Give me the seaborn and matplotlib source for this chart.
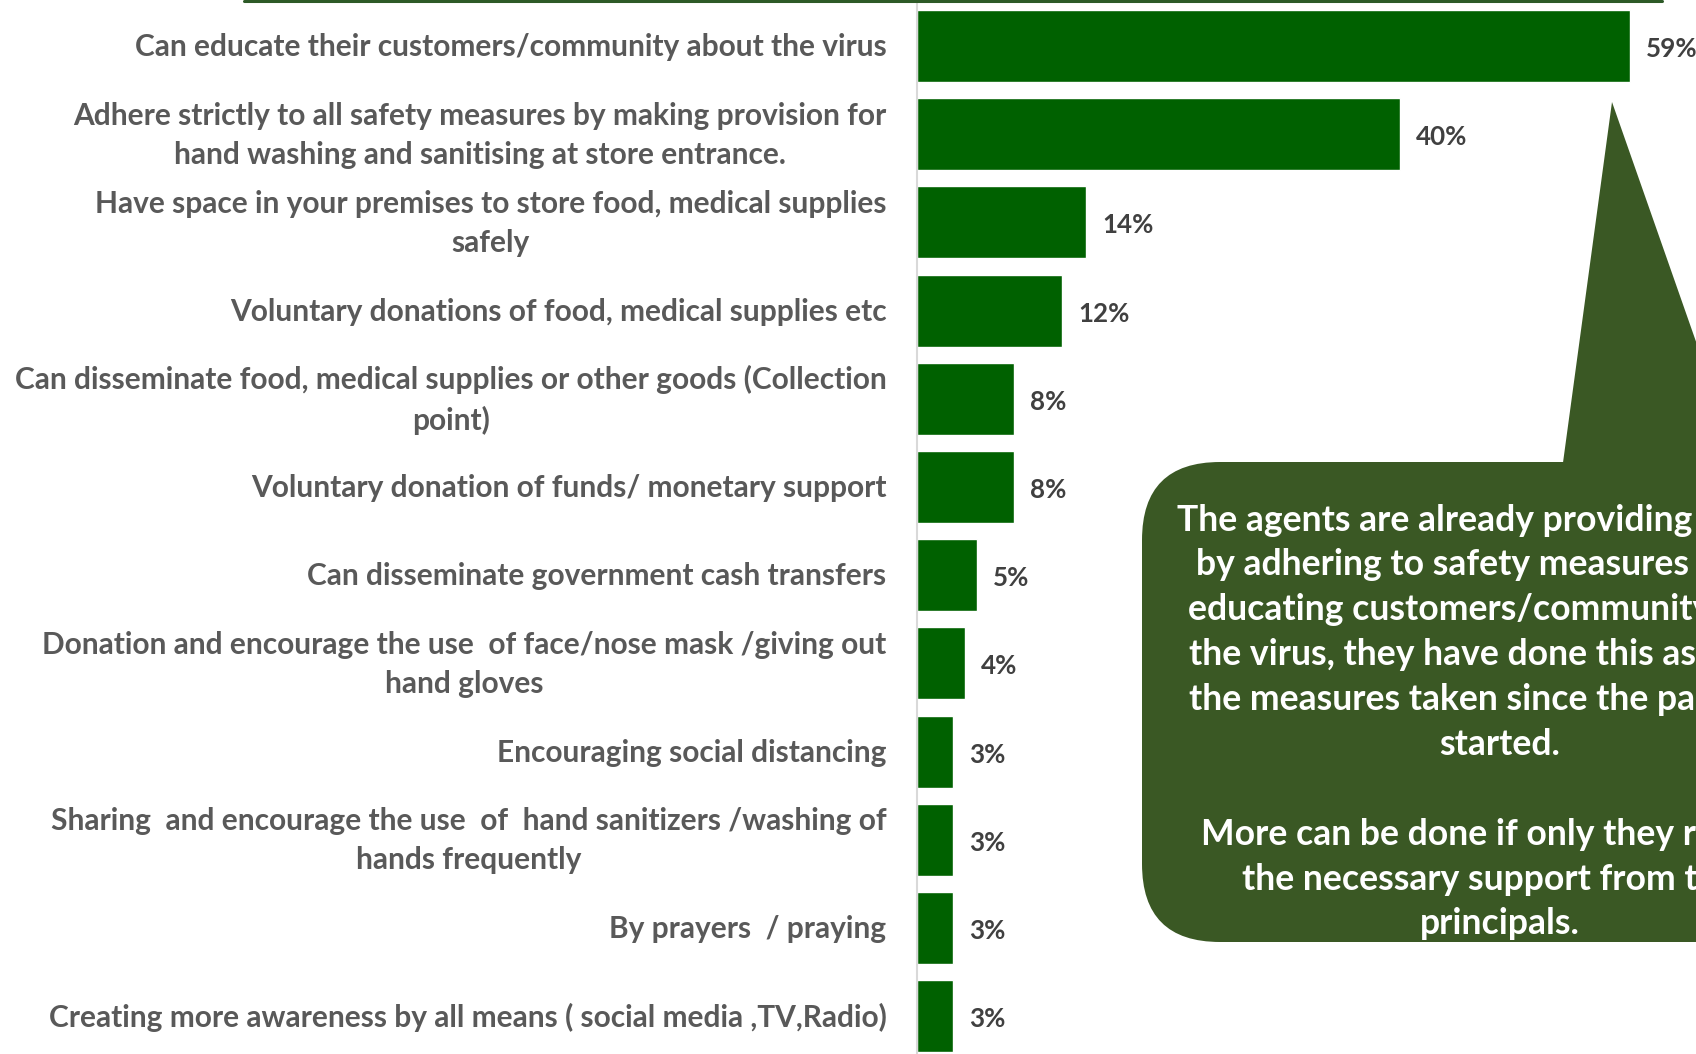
import matplotlib
matplotlib.use("Agg")
import matplotlib.pyplot as plt
import seaborn as sns
import pandas as pd
from matplotlib.patches import FancyBboxPatch, Polygon
from matplotlib.lines import Line2D
from matplotlib.transforms import IdentityTransform, ScaledTranslation

# ---- data -------------------------------------------------------------
categories = [
    "Can educate their customers/community about the virus",
    "Adhere strictly to all safety measures by making provision for\nhand washing and sanitising at store entrance.",
    "Have space in your premises to store food, medical supplies\nsafely",
    "Voluntary donations of food, medical supplies etc",
    "Can disseminate food, medical supplies or other goods (Collection\npoint)",
    "Voluntary donation of funds/ monetary support",
    "Can disseminate government cash transfers",
    "Donation and encourage the use  of face/nose mask /giving out\nhand gloves",
    "Encouraging social distancing",
    "Sharing  and encourage the use  of  hand sanitizers /washing of\nhands frequently",
    "By prayers  / praying",
    "Creating more awareness by all means ( social media ,TV,Radio)",
]
values = [59, 40, 14, 12, 8, 8, 5, 4, 3, 3, 3, 3]
value_labels = [f"{v}%" for v in values]

callout_lines = [
    "The agents are already providing support",
    "by adhering to safety measures and by",
    "educating customers/community about",
    "the virus, they have done this as part of",
    "the measures taken since the pandemic",
    "started.",
    "",
    "More can be done if only they receive",
    "the necessary support from their",
    "principals.",
]

# ---- style ------------------------------------------------------------
BAR = "#006100"
CALLOUT = "#3A5824"
RULE = "#2D5A27"
LABEL = "#595959"
VALUE = "#404040"

sns.set_theme(style="white")
plt.rcParams["font.family"] = ["Lato", "DejaVu Sans"]

W, H = 1696, 1054
fig = plt.figure(figsize=(W / 100, H / 100), dpi=100)
fig.patch.set_facecolor("white")

# plot area: bars start at x=917 px, 12.08 px per percentage point
px_per_pct = 12.08
ax_left, ax_right = 917, W
ax_top, ax_bottom = 1.9, 1060.3
ax = fig.add_axes([ax_left / W, (H - ax_bottom) / H,
                   (ax_right - ax_left) / W, (ax_bottom - ax_top) / H])

df = pd.DataFrame({"reason": categories, "share": values})
sns.barplot(data=df, y="reason", x="share", orient="h", color=BAR,
            saturation=1, width=0.816, ax=ax)

ax.set_xlim(0, (ax_right - ax_left) / px_per_pct)
ax.set_ylim(len(categories) - 0.5, -0.5)
ax.set_xlabel("")
ax.set_ylabel("")
ax.set_xticks([])
for side in ("top", "right", "bottom"):
    ax.spines[side].set_visible(False)
ax.spines["left"].set_color("#D9D9D9")
ax.spines["left"].set_linewidth(1.5)

ax.tick_params(axis="y", length=0, pad=22)
for t in ax.get_yticklabels():
    t.set_fontsize(21.5)
    t.set_fontweight("bold")
    t.set_color(LABEL)
    t.set_multialignment("center")
    t.set_linespacing(1.47)
    # two-line labels sit a little higher than the bar centre
    lift = 5.0 if "\n" in t.get_text() else 1.0
    t.set_transform(t.get_transform()
                    + ScaledTranslation(0, lift / 72, fig.dpi_scale_trans))

labels = ax.bar_label(ax.containers[0], labels=value_labels, padding=11.5,
                      fontsize=18.7, fontweight="bold", color=VALUE,
                      clip_on=False)
for lab in labels:
    ox, oy = lab.xyann
    lab.xyann = (ox, oy - 2.2)

# thin rule along the top
fig.add_artist(Line2D([244 / W, 1662 / W], [1 - 1.2 / H, 1 - 1.2 / H],
                      color=RULE, lw=2.2))

# callout box with pointer
box = FancyBboxPatch((1142, H - 942), 800, 480,
                     boxstyle="round,pad=0,rounding_size=78",
                     transform=IdentityTransform(), facecolor=CALLOUT,
                     edgecolor="none")
pointer = Polygon([(1562, H - 470), (1612, H - 102), (1741, H - 470)],
                  closed=True, transform=IdentityTransform(),
                  facecolor=CALLOUT, edgecolor="none")
fig.add_artist(pointer)
fig.add_artist(box)

fig.text(1500 / W, 1 - 722 / H, "\n".join(callout_lines), ha="center",
         va="center", ma="center", color="white", fontsize=25.6,
         fontweight="bold", linespacing=1.44)

fig.savefig("out.png", dpi=100)
